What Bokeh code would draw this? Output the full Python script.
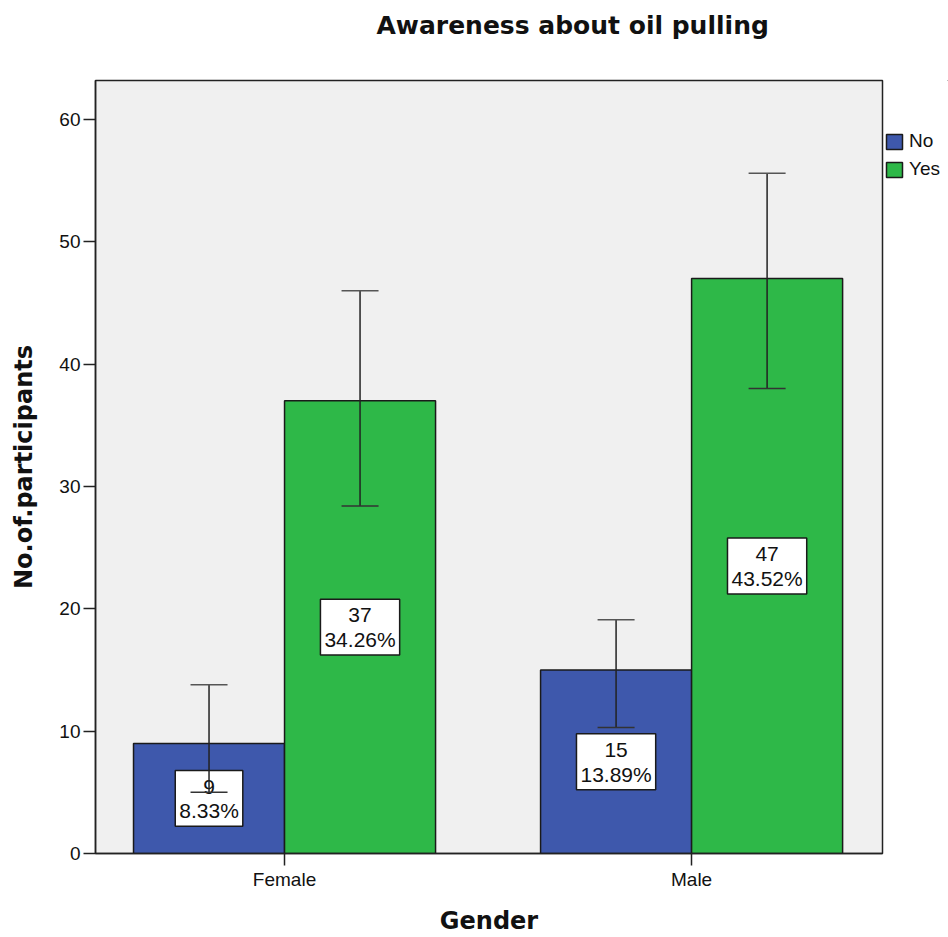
import numpy as np
from bokeh.plotting import figure
from bokeh.layouts import row
from bokeh.models import (Range1d, FixedTicker, Whisker, TeeHead, Legend, LegendItem,
                          ColumnDataSource, Title)
from bokeh.core.properties import value
from bokeh.embed import file_html
from bokeh.resources import INLINE

title_text = "Awareness about oil pulling"
x_title = "Gender"
y_title = "No.of.participants"
genders = ["Female", "Male"]
awareness_levels = ["No", "Yes"]
count_no = [9, 15]
count_yes = [37, 47]
pct_no = ["8.33%", "13.89%"]
pct_yes = ["34.26%", "43.52%"]
err_low_no = [5.0, 10.3]
err_high_no = [13.8, 19.1]
err_low_yes = [28.4, 38.0]
err_high_yes = [46.0, 55.6]
y_ticks = [0, 10, 20, 30, 40, 50, 60]
colors = ["#3E58AC", "#2EB848"]

bar_w = 0.371
x_pos = np.arange(len(genders))
edge = "#1a1a1a"

p = figure(width=884, height=937, title=None,
           x_range=Range1d(-0.4644, 1.469), y_range=Range1d(0, 63.18),
           output_backend="svg", toolbar_location=None,
           min_border_left=95, min_border_right=2,
           min_border_top=80, min_border_bottom=83)

series = [
    (count_no, pct_no, err_low_no, err_high_no, -bar_w / 2, colors[0]),
    (count_yes, pct_yes, err_low_yes, err_high_yes, bar_w / 2, colors[1]),
]
sources = []
for counts, pcts, lo, hi, off, col in series:
    src = ColumnDataSource(dict(
        x=list(x_pos + off),
        top=counts,
        mid=[c / 2 for c in counts],
        label=[f"{c}\n{pc}" for c, pc in zip(counts, pcts)],
        lower=lo, upper=hi,
    ))
    sources.append(src)
    p.vbar(x="x", top="top", width=bar_w, source=src, fill_color=col,
           line_color=edge, line_width=1.5)
    p.text(x="x", y="mid", text="label", source=src, text_align="center",
           text_baseline="middle", text_font=value("Liberation Sans"),
           text_font_size="21px", text_line_height=1.08, text_color="#111111",
           background_fill_color="white", border_line_color=edge,
           border_line_width=1.5, padding=4)
    w = Whisker(base="x", upper="upper", lower="lower", source=src, level="annotation",
                line_color="#222222", line_width=1.5,
                upper_head=TeeHead(size=37, line_color="#555555", line_width=1.5),
                lower_head=TeeHead(size=37, line_color="#333333", line_width=1.5))
    p.add_layout(w)

# title: spacer (closest to frame) then real title
p.add_layout(Title(text=" ", text_font_size="2px", standoff=37, text_color="white"), "above")
p.add_layout(Title(text=title_text, align="left", offset=281, standoff=0,
                   text_font="DejaVu Sans", text_font_size="25px",
                   text_font_style="bold", text_color="#111111"), "above")

# axes
p.xaxis.ticker = FixedTicker(ticks=[int(v) for v in x_pos])
p.xaxis.major_label_overrides = {int(i): g for i, g in zip(x_pos, genders)}
p.yaxis.ticker = FixedTicker(ticks=y_ticks)
p.xaxis.axis_label = x_title
p.yaxis.axis_label = y_title
for ax in (p.xaxis, p.yaxis):
    ax.minor_tick_line_color = None
    ax.major_tick_out = 12
    ax.major_tick_in = 0
    ax.major_tick_line_width = 1.5
    ax.major_tick_line_color = "#222222"
    ax.axis_line_color = "#222222"
    ax.axis_line_width = 1.5
    ax.major_label_text_font = "Liberation Sans"
    ax.major_label_text_font_size = "19px"
    ax.major_label_text_color = "#111111"
    ax.axis_label_text_font = "DejaVu Sans"
    ax.axis_label_text_font_size = "24px"
    ax.axis_label_text_font_style = "bold"
    ax.axis_label_text_color = "#111111"
    ax.major_label_standoff = 3
p.xaxis.axis_label_standoff = 14
p.yaxis.axis_label_standoff = 18

p.grid.visible = False
p.background_fill_color = "#F0F0F0"
p.border_fill_color = "white"
p.outline_line_color = "#222222"
p.outline_line_width = 1.5

# legend panel to the right of the plot area (its frame is aligned with the main frame)
lg = figure(width=64, height=937, title=None, output_backend="svg", toolbar_location=None,
            x_range=Range1d(-10, -9), y_range=Range1d(-2, -1),
            min_border=0, min_border_left=0, min_border_right=0,
            min_border_top=0, min_border_bottom=0)
lg.axis.visible = False
lg.grid.visible = False
lg.outline_line_color = None
lg.background_fill_color = "white"
lg.border_fill_color = "white"
# same bars, kept out of this panel's view; only their legend swatches show
swatches = [lg.vbar(x="x", top="top", width=bar_w, source=sources[i],
                    fill_color=colors[i], line_color=edge, line_width=1.5)
            for i in range(len(awareness_levels))]
legend = Legend(items=[LegendItem(label=awareness_levels[i], renderers=[swatches[i]])
                       for i in range(len(awareness_levels))],
                location=(0, 673), padding=0, margin=0, spacing=6,
                glyph_width=20, glyph_height=19, label_height=19, label_standoff=5,
                label_text_font="Liberation Sans", label_text_font_size="19px",
                label_text_color="#111111",
                background_fill_alpha=0, border_line_alpha=0)
lg.add_layout(legend)

layout = row(p, lg, spacing=0)
open("out.html", "w").write(file_html(layout, INLINE))
